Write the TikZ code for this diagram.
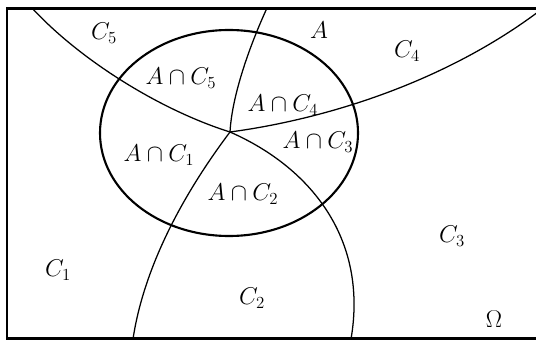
\documentclass[tikz,border=0pt]{standalone}
\usepackage{amsmath,amssymb}
\usepackage{tikz}
\usetikzlibrary{positioning}

\begin{document}
\begin{tikzpicture}[x=0.025cm, y=-0.025cm, font=\LARGE,
    part/.style={line width=0.9pt},
    setA/.style={line width=1.5pt}]
    \useasboundingbox (0,0) rectangle (536,340);
    % sample space
    \draw[line width=1.6pt] (7,8.5) rectangle (540,338.5);
    % common point of the partition
    \coordinate (J) at (230,132);
    % partition C1,...,C5
    \draw[part] (32,8) .. controls (80,60) and (160,110) .. (J);
    \draw[part] (267,8) .. controls (250,45) and (232,95) .. (J);
    \draw[part] (J) .. controls (320,120) and (440,85) .. (538,12);
    \draw[part] (J) .. controls (312,168) and (368,240) .. (351,339);
    \draw[part] (J) .. controls (190,185) and (145,260) .. (133,339);
    % the event A
    \draw[setA] (229,133) ellipse [x radius=129, y radius=103];
    % labels
    \node (c5) at (104,33) {$C_5$};
    \node (a) at (319,30) {$A$};
    \node (c4) at (407,51) {$C_4$};
    \node (ac5) at (181,78) {$A\cap C_5$};
    \node (ac4) at (283,105) {$A\cap C_4$};
    \node (ac3) at (318,142) {$A\cap C_3$};
    \node (ac1) at (159,155) {$A\cap C_1$};
    \node (ac2) at (243,194) {$A\cap C_2$};
    \node (c3) at (452,236) {$C_3$};
    \node (c1) at (58,270) {$C_1$};
    \node (c2) at (252,298) {$C_2$};
    \node (om) at (494,319) {$\Omega$};
\end{tikzpicture}
\end{document}
